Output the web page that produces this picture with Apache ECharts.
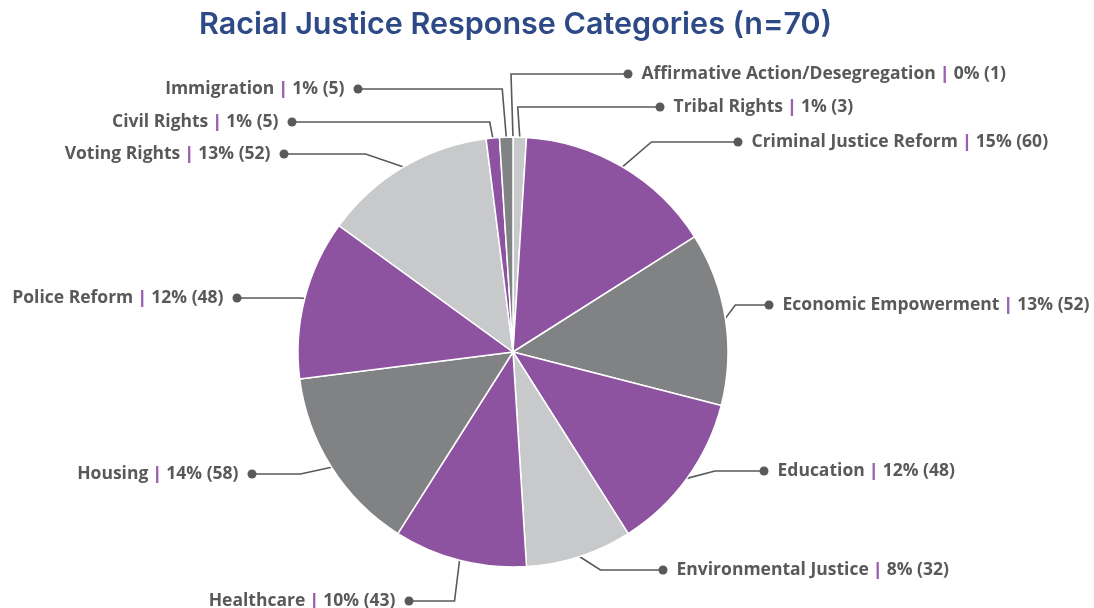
<!DOCTYPE html>
<html>
<head>
<meta charset="utf-8">
<script src="https://cdn.jsdelivr.net/npm/echarts@6/dist/echarts.min.js"></script>
<style>
  html, body { margin: 0; padding: 0; background: #ffffff; }
  #chart { width: 1094px; height: 608px; }
</style>
</head>
<body>
<div id="chart"></div>
<script>
// Categories, clockwise from 12 o'clock
const categories = [
  'Affirmative Action/Desegregation', 'Tribal Rights', 'Criminal Justice Reform',
  'Economic Empowerment', 'Education', 'Environmental Justice', 'Healthcare',
  'Housing', 'Police Reform', 'Voting Rights', 'Civil Rights', 'Immigration'
];
// Share of responses (%) — slice sizes
const percents = [0, 1, 15, 13, 12, 8, 10, 14, 12, 13, 1, 1];
// Number of mentions per category
const counts = [1, 3, 60, 52, 48, 32, 43, 58, 48, 52, 5, 5];

const PURPLE = '#8E53A0';
const DARK = '#818284';
const LIGHT = '#C8C9CB';
const sliceColors = [DARK, LIGHT, PURPLE, DARK, PURPLE, LIGHT, PURPLE, DARK, PURPLE, LIGHT, PURPLE, DARK];

// Callout placement: [dot x, label y, elbow offset from the slice edge]
const callouts = [
  [628, 74, -2], [660, 107, -2], [738, 142, 29], [769, 305, 10],
  [764, 471, 28], [663, 570, 21], [409, 601, -5], [252, 474, -31],
  [237, 298, -5], [284, 154, -38], [292, 122, -3], [358, 89, -4]
];
const CX = 513, CY = 352;

const chart = echarts.init(document.getElementById('chart'), null, { renderer: 'canvas' });

const TEXT = '#595959';
const FONT = '"Open Sans"';
const FS = 17.5;

function calloutText(p) {
  const i = p.dataIndex;
  const right = callouts[i][0] > CX;
  const body = '{t|' + categories[i] + '} {sep||} {t|' + percents[i] + '% (' + counts[i] + ')}';
  return right ? '{dot| }{gap| }' + body : body + '{gap| }{dot| }';
}

chart.setOption({
  animation: false,
  title: {
    text: 'Racial Justice Response Categories (n=70)',
    left: 194,
    top: 4,
    textStyle: { fontFamily: 'Inter', fontWeight: 600, fontSize: 30.5, color: '#2E4A86' }
  },
  series: [{
    type: 'pie',
    center: [CX, CY],
    radius: 215,
    startAngle: 90,
    clockwise: true,
    avoidLabelOverlap: false,
    minShowLabelAngle: 0,
    itemStyle: { borderColor: '#ffffff', borderWidth: 1.5 },
    emphasis: { disabled: true },
    data: categories.map((name, i) => ({
      name: name,
      value: percents[i],
      itemStyle: { color: sliceColors[i] }
    })),
    label: {
      show: true,
      position: 'outside',
      formatter: calloutText,
      color: TEXT,
      fontFamily: FONT,
      fontWeight: 'bold',
      fontSize: FS,
      rich: {
        t: { color: TEXT, fontFamily: FONT, fontWeight: 'bold', fontSize: FS },
        sep: { color: '#9B5FB4', fontFamily: FONT, fontWeight: 800, fontSize: FS },
        dot: { width: 9, height: 9, borderRadius: 4.5, backgroundColor: TEXT, verticalAlign: 'middle' },
        gap: { width: 9 }
      }
    },
    labelLine: {
      show: true,
      length: 10,
      length2: 10,
      lineStyle: { color: TEXT, width: 1.6 }
    },
    labelLayout: function (params) {
      const c = callouts[params.dataIndex];
      const right = c[0] > CX;
      const pts = params.labelLinePoints;
      const start = pts && pts[0] ? pts[0] : [CX, CY];
      return {
        x: right ? c[0] - 4.5 : c[0] + 4.5,
        y: c[1],
        align: right ? 'left' : 'right',
        verticalAlign: 'middle',
        labelLinePoints: [
          [start[0], start[1]],
          [start[0] + c[2], c[1]],
          [c[0], c[1]]
        ]
      };
    }
  }]
});
</script>
</body>
</html>
